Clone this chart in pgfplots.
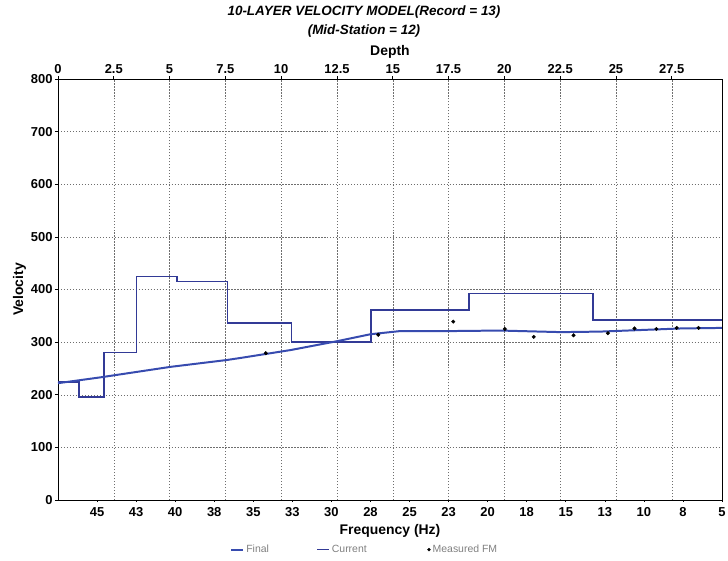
\documentclass[border=0pt]{standalone}
\usepackage{fontspec}
\setmainfont{Liberation Sans}
\usepackage{pgfplots}
\pgfplotsset{compat=1.18}
\definecolor{finalblue}{RGB}{55,75,175}
\definecolor{curblue}{RGB}{50,58,150}
\definecolor{gridc}{RGB}{110,110,110}
\begin{document}
\begin{tikzpicture}
\useasboundingbox (-58bp,-61bp) rectangle (670bp,500bp);
\node[font=\bfseries\itshape\fontsize{13.5}{15}\selectfont] at (306bp,488bp) {10-LAYER VELOCITY MODEL(Record = 13)};
\node[font=\bfseries\itshape\fontsize{13.5}{15}\selectfont] at (306bp,469bp) {(Mid-Station = 12)};
\begin{axis}[
  scale only axis, width=664bp, height=421bp, at={(0,0)}, anchor=south west,
  xmin=0, xmax=29.75, ymin=0, ymax=800,
  /pgf/number format/assume math mode=true,
  xtick={0,2.5,5,7.5,10,12.5,15,17.5,20,22.5,25,27.5},
  xticklabels={0,2.5,5,7.5,10,12.5,15,17.5,20,22.5,25,27.5},
  xticklabel pos=upper, xtick pos=upper,
  ytick={0,100,...,800}, ytick pos=left,
  tick align=outside, major tick length=3bp,
  grid=major,
  major grid style={gridc, dash pattern=on 1.5pt off 1.5pt, line width=0.5pt},
  tick label style={font=\bfseries\fontsize{13}{14}\selectfont},
  xticklabel style={yshift=-1bp},
  yticklabel style={xshift=1bp},
  xlabel={Depth}, xlabel style={font=\bfseries\fontsize{14}{15}\selectfont, yshift=-1bp},
  ylabel={Velocity}, ylabel style={font=\bfseries\fontsize{14}{15}\selectfont, yshift=-2bp},
  axis line style={line width=0.9pt, black},
  tick style={black, line width=0.6pt},
]
\addplot[const plot, curblue, line width=1.4pt] coordinates {
(0,224) (0.94,196) (2.06,280) (3.53,425) (5.33,415) (7.6,336) (10.45,300) (14.02,361) (18.41,392) (23.97,342) (29.75,342)
};
\end{axis}
\begin{axis}[
  scale only axis, width=664bp, height=421bp, at={(0,0)}, anchor=south west,
  xmin=5, xmax=47.5, x dir=reverse, ymin=0, ymax=800,
  axis x line*=bottom, axis y line=none,
  xtick={45,42.5,40,37.5,35,32.5,30,27.5,25,22.5,20,17.5,15,12.5,10,7.5,5},
  xticklabels={45,43,40,38,35,33,30,28,25,23,20,18,15,13,10,8,5},
  tick align=outside, major tick length=2bp,
  tick label style={font=\bfseries\fontsize{13}{14}\selectfont},
  xticklabel style={yshift=-2bp},
  xlabel={Frequency (Hz)}, xlabel style={font=\bfseries\fontsize{14}{15}\selectfont, yshift=-1bp},
  axis line style={line width=0.9pt, black},
  tick style={black, line width=0.6pt},
  legend columns=3,
  legend style={draw=none, fill=none, at={(0.462,-0.118)}, anchor=center,
    font=\fontsize{10.5}{12}\selectfont\color{gray},
    /tikz/every even column/.append style={column sep=46bp}},
  legend image code/.code={\draw[#1] (0bp,0bp) -- (12bp,0bp);},
]
\addplot[finalblue, line width=2pt] coordinates {
(47.5,222) (44.8,233) (40.3,253) (36.7,266) (35.8,270) (32.6,285) (29.6,302) (27.5,315) (25.6,321) (22.4,321) (19.2,322) (16.6,320) (15.3,319) (12.8,320) (10.2,323) (7.6,326) (5,327)
};
\addlegendentry{Final}
\addlegendimage{curblue, line width=0.9pt}
\addlegendentry{Current}
\addplot[only marks, mark=*, mark size=1.8pt, black, legend image code/.code={\path (0bp,0bp); \fill[black] (14bp,0bp) circle (1.5pt);}] coordinates {
(34.2,279) (27.0,314) (22.2,339) (18.9,325) (17.05,310) (14.5,313) (12.3,317) (10.6,326) (9.2,325) (7.9,327) (6.5,327)
};
\addlegendentry{Measured FM}
\end{axis}
\end{tikzpicture}
\end{document}
